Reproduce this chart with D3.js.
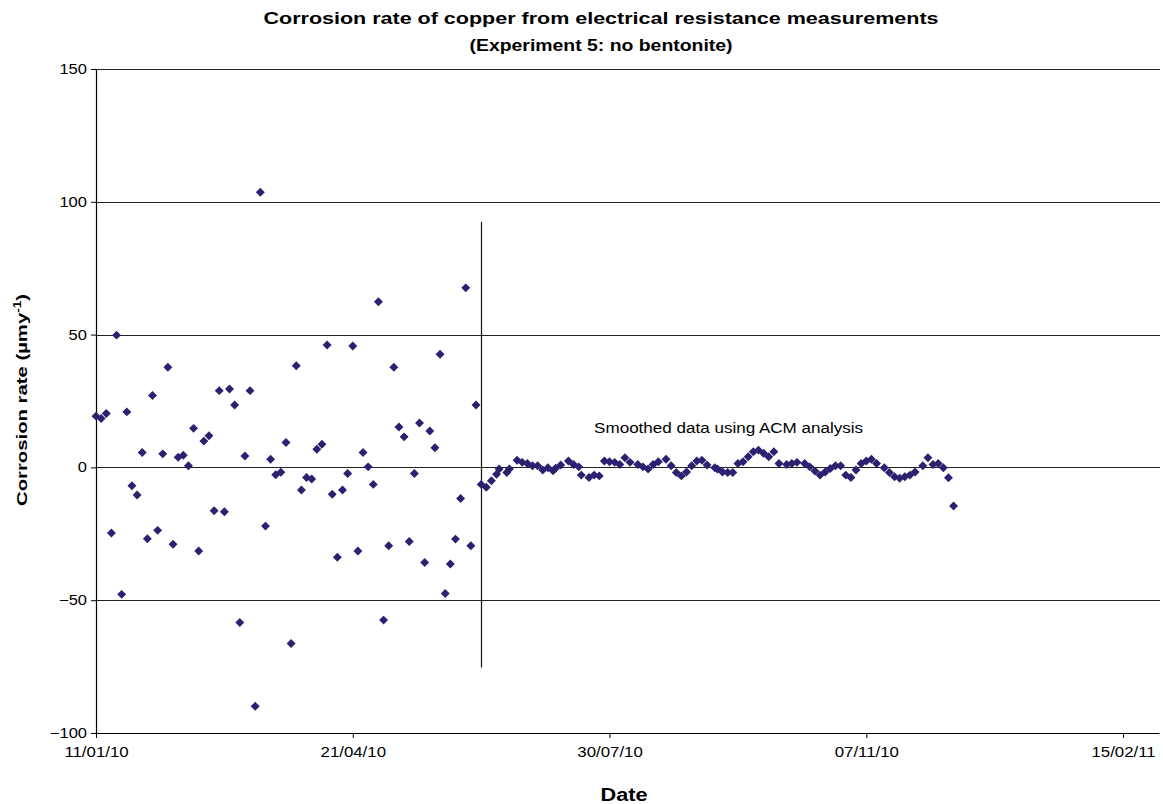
<!DOCTYPE html>
<html>
<head>
<meta charset="utf-8">
<script src="https://cdn.jsdelivr.net/npm/d3@7"></script>
<style>
  html, body { margin: 0; padding: 0; background: #fff; }
  svg { display: block; }
  text { font-family: "Liberation Sans", Arial, sans-serif; fill: #000; }
</style>
</head>
<body>
<svg id="chart" width="1163" height="804"></svg>
<script>
// ---------- data ----------
const titleLines = ["Corrosion rate of copper from electrical resistance measurements", "(Experiment 5: no bentonite)"];
const xTitle = "Date";
const yTitle = "Corrosion rate (µmy";
const annotation = "Smoothed data using ACM analysis";

const xDomain = ["2010-01-11", "2011-03-01"];
const xTickDates = ["2010-01-11", "2010-04-21", "2010-07-30", "2010-11-07", "2011-02-15"];
const yTicks = [-100, -50, 0, 50, 100, 150];

const rawDates = [
  "2010-01-11","2010-01-13","2010-01-15","2010-01-17","2010-01-19","2010-01-21","2010-01-23","2010-01-25","2010-01-27","2010-01-29",
  "2010-01-31","2010-02-02","2010-02-04","2010-02-06","2010-02-08","2010-02-10","2010-02-12","2010-02-14","2010-02-16","2010-02-18",
  "2010-02-20","2010-02-22","2010-02-24","2010-02-26","2010-02-28","2010-03-02","2010-03-04","2010-03-06","2010-03-08","2010-03-10",
  "2010-03-12","2010-03-14","2010-03-16","2010-03-18","2010-03-20","2010-03-22","2010-03-24","2010-03-26","2010-03-28","2010-03-30",
  "2010-04-01","2010-04-03","2010-04-05","2010-04-07","2010-04-09","2010-04-11","2010-04-13","2010-04-15","2010-04-17","2010-04-19",
  "2010-04-21","2010-04-23","2010-04-25","2010-04-27","2010-04-29","2010-05-01","2010-05-03","2010-05-05","2010-05-07","2010-05-09",
  "2010-05-11","2010-05-13","2010-05-15","2010-05-17","2010-05-19","2010-05-21","2010-05-23","2010-05-25","2010-05-27","2010-05-29",
  "2010-05-31","2010-06-02","2010-06-04","2010-06-06","2010-06-08"
];
const rawValues = [
  19.3, 18.4, 20.3, -24.7, 49.8, -47.8, 20.9, -6.9, -10.4, 5.6,
  -26.9, 27.1, -23.7, 5.1, 37.7, -28.9, 3.8, 4.6, 0.6, 14.7,
  -31.5, 9.9, 11.9, -16.3, 28.9, -16.7, 29.5, 23.5, -58.4, 4.3,
  28.9, -89.9, 103.6, -22.1, 3.1, -2.8, -1.8, 9.4, -66.3, 38.3,
  -8.5, -3.8, -4.4, 6.8, 8.7, 46.1, -10.1, -33.8, -8.5, -2.3,
  45.7, -31.5, 5.6, 0.2, -6.4, 62.4, -57.5, -29.5, 37.7, 15.2,
  11.5, -27.9, -2.3, 16.7, -35.8, 13.7, 7.4, 42.6, -47.5, -36.4,
  -27.0, -11.7, 67.6, -29.5, 23.5
];

const smoothDates = [
  "2010-06-10","2010-06-12","2010-06-14","2010-06-16","2010-06-17","2010-06-20","2010-06-21","2010-06-24","2010-06-26","2010-06-28",
  "2010-06-30","2010-07-02","2010-07-04","2010-07-06","2010-07-08","2010-07-09","2010-07-11","2010-07-14","2010-07-16","2010-07-18",
  "2010-07-19","2010-07-22","2010-07-24","2010-07-26","2010-07-28","2010-07-30","2010-08-01","2010-08-03","2010-08-05","2010-08-07",
  "2010-08-10","2010-08-12","2010-08-14","2010-08-16","2010-08-18","2010-08-21","2010-08-23","2010-08-25","2010-08-27","2010-08-29",
  "2010-08-31","2010-09-02","2010-09-04","2010-09-06","2010-09-09","2010-09-10","2010-09-12","2010-09-14","2010-09-16","2010-09-18",
  "2010-09-20","2010-09-22","2010-09-24","2010-09-26","2010-09-28","2010-09-30","2010-10-02","2010-10-04","2010-10-07","2010-10-09",
  "2010-10-11","2010-10-14","2010-10-16","2010-10-18","2010-10-20","2010-10-22","2010-10-24","2010-10-26","2010-10-28","2010-10-30",
  "2010-11-01","2010-11-03","2010-11-05","2010-11-07","2010-11-09","2010-11-11","2010-11-14","2010-11-16","2010-11-18","2010-11-20",
  "2010-11-22","2010-11-24","2010-11-26","2010-11-29","2010-12-01","2010-12-03","2010-12-05","2010-12-07","2010-12-09","2010-12-11"
];
const smoothValues = [
  -6.4, -7.5, -5.0, -2.6, -0.6, -1.9, -0.6, 2.7, 1.9, 1.5,
  0.6, 0.6, -1.0, -0.1, -1.3, -0.3, 0.9, 2.4, 1.1, 0.2,
  -2.9, -3.8, -2.9, -3.2, 2.4, 2.1, 1.9, 1.1, 3.6, 1.9,
  1.1, 0.2, -0.6, 1.1, 2.1, 3.1, 0.6, -1.9, -3.2, -1.7,
  0.6, 2.4, 2.7, 0.9, -0.1, -0.6, -1.7, -1.9, -1.9, 1.5,
  2.1, 4.0, 5.9, 6.5, 5.3, 4.0, 5.9, 1.5, 1.1, 1.5,
  1.9, 1.5, 0.2, -1.4, -2.9, -1.7, -0.4, 0.6, 0.6, -2.9,
  -3.8, -1.0, 1.5, 2.4, 3.1, 1.5, -0.1, -1.9, -3.5, -4.1,
  -3.5, -2.9, -1.7, 0.6, 3.6, 1.1, 1.5, -0.1, -3.9, -14.5
];

// divider line and annotation anchor (data units)
const dividerDate = "2010-06-10";
const dividerRange = [92.5, -75.3];
const annotationDate = "2010-07-24";
const annotationValue = 12.8;

// ---------- layout ----------
const plot = { left: 96, right: 1159, top: 69, bottom: 733 };
const markerColor = "#2a2270";

const parse = d3.utcParse("%Y-%m-%d");
const fmt = d3.utcFormat("%d/%m/%y");

const svg = d3.select("#chart");

const x = d3.scaleUtc().domain(xDomain.map(parse)).range([plot.left, plot.right]);
const y = d3.scaleLinear().domain([-100, 150]).range([plot.bottom, plot.top]);

function stretch(sel, k) {
  sel.each(function () {
    const w = this.getComputedTextLength();
    this.setAttribute("textLength", (w * k).toFixed(1));
    this.setAttribute("lengthAdjust", "spacingAndGlyphs");
  });
}

// gridlines
svg.append("g")
  .selectAll("line")
  .data(yTicks.filter(v => v !== -100))
  .join("line")
  .attr("x1", plot.left).attr("x2", plot.right + 1)
  .attr("y1", d => Math.round(y(d)) + 0.5).attr("y2", d => Math.round(y(d)) + 0.5)
  .attr("stroke", "#222").attr("stroke-width", 1.2);

// y axis
const yAxis = svg.append("g")
  .attr("transform", `translate(${plot.left},0)`)
  .call(d3.axisLeft(y).tickValues(yTicks).tickSize(5).tickPadding(4).tickFormat(d3.format("d")));
yAxis.select(".domain").attr("stroke", "#000").attr("stroke-width", 1.2);
yAxis.selectAll(".tick line").attr("stroke", "#000");
yAxis.selectAll("text").attr("font-size", 14).attr("font-family", "Liberation Sans, Arial, sans-serif").attr("fill", "#000");
stretch(yAxis.selectAll("text"), 1.18);

// x axis
const xAxis = svg.append("g")
  .attr("transform", `translate(0,${plot.bottom})`)
  .call(d3.axisBottom(x).tickValues(xTickDates.map(parse)).tickSize(5).tickSizeOuter(0).tickPadding(9).tickFormat(fmt));
xAxis.select(".domain").attr("stroke", "#000").attr("stroke-width", 1.2);
xAxis.selectAll(".tick line").attr("stroke", "#000");
xAxis.selectAll("text").attr("font-size", 14).attr("font-family", "Liberation Sans, Arial, sans-serif").attr("fill", "#000");
stretch(xAxis.selectAll("text"), 1.2);

// divider line
svg.append("line")
  .attr("x1", Math.round(x(parse(dividerDate))) + 0.5)
  .attr("x2", Math.round(x(parse(dividerDate))) + 0.5)
  .attr("y1", y(dividerRange[0]))
  .attr("y2", y(dividerRange[1]))
  .attr("stroke", "#111").attr("stroke-width", 1.2);

// markers
const diamond = d3.symbol(d3.symbolSquare, 40);
const rawData = rawDates.map((d, i) => ({ date: parse(d), value: rawValues[i] }));
const smoothData = smoothDates.map((d, i) => ({ date: parse(d), value: smoothValues[i] }));

function drawMarkers(data) {
  svg.append("g")
    .selectAll("path")
    .data(data)
    .join("path")
    .attr("d", diamond)
    .attr("transform", d => `translate(${x(d.date)},${y(d.value)}) rotate(45)`)
    .attr("fill", markerColor);
}
drawMarkers(rawData);
drawMarkers(smoothData);

// annotation
const ann = svg.append("text")
  .attr("x", x(parse(annotationDate)))
  .attr("y", y(annotationValue))
  .attr("font-size", 14)
  .text(annotation);
ann.attr("textLength", 269).attr("lengthAdjust", "spacingAndGlyphs");

// title
svg.append("text")
  .attr("x", 601).attr("y", 24)
  .attr("text-anchor", "middle")
  .attr("font-size", 16).attr("font-weight", "bold")
  .attr("textLength", 675).attr("lengthAdjust", "spacingAndGlyphs")
  .text(titleLines[0]);
svg.append("text")
  .attr("x", 601).attr("y", 51)
  .attr("text-anchor", "middle")
  .attr("font-size", 16).attr("font-weight", "bold")
  .attr("textLength", 263).attr("lengthAdjust", "spacingAndGlyphs")
  .text(titleLines[1]);

// x axis title
svg.append("text")
  .attr("x", 624).attr("y", 801)
  .attr("text-anchor", "middle")
  .attr("font-size", 18).attr("font-weight", "bold")
  .attr("textLength", 47).attr("lengthAdjust", "spacingAndGlyphs")
  .text(xTitle);

// y axis title
const yt = svg.append("text")
  .attr("transform", "translate(27,400) rotate(-90)")
  .attr("text-anchor", "middle")
  .attr("font-size", 15).attr("font-weight", "bold")
  .attr("textLength", 212).attr("lengthAdjust", "spacingAndGlyphs");
yt.append("tspan").text(yTitle);
yt.append("tspan").attr("font-size", 10).attr("dy", -6).text("-1");
yt.append("tspan").attr("dy", 6).text(")");
</script>
</body>
</html>
